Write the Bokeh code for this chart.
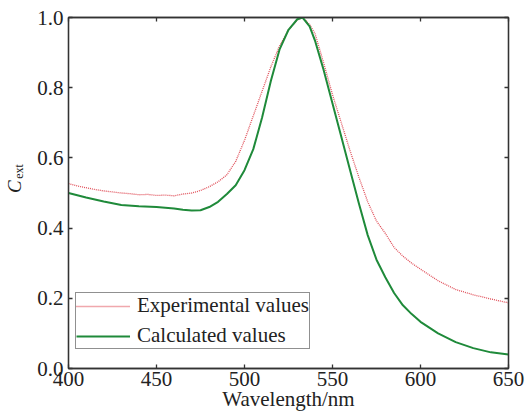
import math
from bokeh.plotting import figure
from bokeh.layouts import row
from bokeh.models import (Range1d, LinearAxis, FixedTicker, Legend, LegendItem,
                          CustomJSTickFormatter)
from bokeh.core.properties import value
from bokeh.embed import file_html
from bokeh.resources import INLINE

wl_calc = [400, 410, 420, 430, 440, 450, 460, 465, 470, 475, 480, 485, 490, 495,
           500, 505, 510, 515, 520, 525, 530, 533, 537, 540, 545, 550, 555, 560,
           565, 570, 575, 580, 585, 590, 595, 600, 610, 620, 630, 640, 650]
c_calc = [0.500, 0.487, 0.476, 0.466, 0.462, 0.460, 0.456, 0.452, 0.450, 0.451,
          0.460, 0.475, 0.497, 0.522, 0.565, 0.625, 0.715, 0.820, 0.910, 0.965,
          0.995, 1.000, 0.975, 0.935, 0.850, 0.755, 0.660, 0.565, 0.470, 0.380,
          0.310, 0.260, 0.215, 0.180, 0.155, 0.133, 0.100, 0.075, 0.058, 0.046, 0.040]

wl_exp = [400, 405, 410, 415, 420, 425, 430, 435, 440, 445, 450, 455, 460, 465,
          470, 475, 480, 485, 490, 495, 500, 505, 510, 515, 520, 525, 530, 533,
          537, 540, 545, 550, 555, 560, 565, 570, 575, 580, 585, 590, 595, 600,
          610, 620, 630, 640, 650]
c_exp = [0.527, 0.520, 0.515, 0.510, 0.506, 0.503, 0.500, 0.498, 0.495, 0.496,
         0.493, 0.494, 0.492, 0.497, 0.500, 0.507, 0.518, 0.532, 0.552, 0.590,
         0.650, 0.720, 0.790, 0.860, 0.920, 0.965, 0.993, 1.000, 0.980, 0.955,
         0.870, 0.780, 0.700, 0.620, 0.545, 0.475, 0.420, 0.385, 0.345, 0.320,
         0.300, 0.283, 0.250, 0.225, 0.210, 0.198, 0.187]

x_ticks = [400, 450, 500, 550, 600, 650]
y_ticks = [0.0, 0.2, 0.4, 0.6, 0.8, 1.0]
y_title_main = ["C"]
y_title_sub = ["ext"]

FONT = "Liberation Serif"
AX = "#333333"
TXT = "#222222"

TITLE_W = 30
H = 414

# narrow strip that carries the y-axis title C_ext (pixel coordinates, y down)
t = figure(width=TITLE_W, height=H, output_backend="svg", toolbar_location=None,
           x_range=Range1d(0, TITLE_W), y_range=Range1d(H, 0),
           min_border=0, min_border_left=0, min_border_right=0,
           min_border_top=0, min_border_bottom=0)
t.axis.visible = False
t.grid.visible = False
t.outline_line_color = None
t.text(x=[14], y=[199.5], text=y_title_main, angle=math.pi / 2,
       text_font=value(FONT), text_font_size="19px", text_font_style="italic",
       text_color=TXT, text_align="center", text_baseline="middle")
t.text(x=[18], y=[181.5], text=y_title_sub, angle=math.pi / 2,
       text_font=value(FONT), text_font_size="12px",
       text_color=TXT, text_align="center", text_baseline="middle")

p = figure(width=526 - TITLE_W, height=H, output_backend="svg", toolbar_location=None,
           x_range=Range1d(400, 650), y_range=Range1d(0, 1.0),
           min_border_left=68 - TITLE_W, min_border_top=17, min_border_right=18,
           min_border_bottom=46)
p.grid.visible = False
p.outline_line_color = AX
p.outline_line_width = 1.3
p.background_fill_color = "white"
p.border_fill_color = "white"

r_exp = p.line(wl_exp, c_exp, line_color="#e0505a", line_width=1.3, line_dash="1 1")
r_calc = p.line(wl_calc, c_calc, line_color="#1f8a3a", line_width=2)

def style(ax, labels=True):
    ax.axis_line_color = AX
    ax.axis_line_width = 1.3
    ax.major_tick_line_color = AX
    ax.major_tick_line_width = 1.3
    ax.major_tick_in = 4
    ax.major_tick_out = 0
    ax.minor_tick_line_color = None
    if labels:
        ax.major_label_text_font = FONT
        ax.major_label_text_font_size = "21px"
        ax.major_label_text_color = TXT
    else:
        ax.formatter = CustomJSTickFormatter(code="return '';")
        ax.major_label_standoff = 0

xa = p.xaxis[0]
xa.ticker = FixedTicker(ticks=x_ticks)
style(xa)
xa.major_label_standoff = 3
xa.axis_label = "Wavelength/nm"
xa.axis_label_text_font = FONT
xa.axis_label_text_font_size = "21px"
xa.axis_label_text_font_style = "normal"
xa.axis_label_text_color = TXT
xa.axis_label_standoff = -2

ya = p.yaxis[0]
ya.ticker = FixedTicker(ticks=y_ticks)
style(ya)
ya.major_label_standoff = 5
ya.formatter = CustomJSTickFormatter(code="return tick.toFixed(1);")

top = LinearAxis(ticker=FixedTicker(ticks=x_ticks))
style(top, labels=False)
p.add_layout(top, "above")
right = LinearAxis(ticker=FixedTicker(ticks=y_ticks))
style(right, labels=False)
p.add_layout(right, "right")

legend = Legend(items=[LegendItem(label="Experimental values", renderers=[r_exp]),
                       LegendItem(label="Calculated values", renderers=[r_calc])],
                location=(7, 19))
legend.label_text_font = FONT
legend.label_text_font_size = "21px"
legend.label_text_color = TXT
legend.border_line_color = TXT
legend.border_line_width = 1.3
legend.padding = 0
legend.margin = 0
legend.spacing = 5
legend.label_height = 22
legend.glyph_height = 22
legend.glyph_width = 54
legend.label_standoff = 7
legend.background_fill_alpha = 1.0
p.add_layout(legend, "center")

layout = row(t, p, spacing=0)
open("out.html", "w").write(file_html(layout, INLINE))
